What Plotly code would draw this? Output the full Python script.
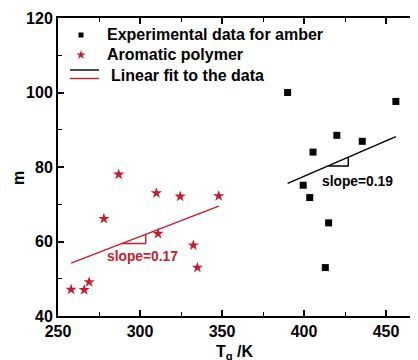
import plotly.graph_objects as go

# Data
amber_tg = [390, 456, 420, 435.5, 405.5, 399.5, 403.5, 415, 413]
amber_m = [100, 97.6, 88.5, 86.9, 84, 75.1, 71.8, 65, 53]
arom_tg = [258, 266, 269, 278, 287, 310, 311, 324.5, 332.5, 335, 348]
arom_m = [47.1, 47, 49.1, 66.1, 78, 73, 62.1, 72.1, 59, 53, 72.2]

# Fits (from picture)
amber_fit_x = [390, 456]
amber_fit_b, amber_fit_k = 75.6, 0.19   # y = b + k*(x - 390)
arom_fit_x = [258, 348]
arom_fit_b, arom_fit_k = 54.2, 0.17     # y = b + k*(x - 258)

RED = "#c41e2e"
FONT = "Liberation Sans, Arial, sans-serif"

OFF = 8  # page body margin
W, H = 418 - OFF, 360 - OFF
L, R, T, B = 58 - OFF, 0, 18 - OFF, 44
PW, PH = W - L - R, H - T - B

def px_x(p):  # viewport pixel -> paper
    return (p - OFF - L) / PW

def px_y(p):
    return (H - B - (p - OFF)) / PH

def amber_line(x):
    return amber_fit_b + amber_fit_k * (x - amber_fit_x[0])

def arom_line(x):
    return arom_fit_b + arom_fit_k * (x - arom_fit_x[0])

fig = go.Figure()

fig.add_trace(go.Scatter(x=arom_fit_x, y=[arom_line(v) for v in arom_fit_x], mode="lines",
                         line=dict(color=RED, width=1.5), showlegend=False))
fig.add_trace(go.Scatter(x=amber_fit_x, y=[amber_line(v) for v in amber_fit_x], mode="lines",
                         line=dict(color="black", width=1.5), showlegend=False))

# slope triangles
tx1, tx2 = 289, 303.5
fig.add_trace(go.Scatter(x=[tx1, tx2, tx2], y=[arom_line(tx1), arom_line(tx1), arom_line(tx2)],
                         mode="lines", line=dict(color=RED, width=1.4), showlegend=False))
bx1, bx2 = 414.5, 427
fig.add_trace(go.Scatter(x=[bx1, bx2, bx2], y=[amber_line(bx1), amber_line(bx1), amber_line(bx2)],
                         mode="lines", line=dict(color="black", width=1.4), showlegend=False))

fig.add_trace(go.Scatter(x=amber_tg, y=amber_m, mode="markers",
                         marker=dict(symbol="square", size=7, color="black"), showlegend=False))
fig.add_trace(go.Scatter(x=arom_tg, y=arom_m, mode="markers",
                         marker=dict(symbol="star", size=8.5, color=RED, line=dict(width=0)), showlegend=False))

# Legend glyphs on overlay axis (paper-like)
fig.add_trace(go.Scatter(x=[px_x(81)], y=[px_y(35)], xaxis="x2", yaxis="y2", mode="markers",
                         marker=dict(symbol="square", size=5, color="black"), showlegend=False))
fig.add_trace(go.Scatter(x=[px_x(81)], y=[px_y(55)], xaxis="x2", yaxis="y2", mode="markers",
                         marker=dict(symbol="star", size=7, color=RED, line=dict(width=0)), showlegend=False))
fig.add_trace(go.Scatter(x=[px_x(70), px_x(99)], y=[px_y(70)] * 2, xaxis="x2", yaxis="y2", mode="lines",
                         line=dict(color="black", width=1.4), showlegend=False))
fig.add_trace(go.Scatter(x=[px_x(70), px_x(99)], y=[px_y(78.5)] * 2, xaxis="x2", yaxis="y2", mode="lines",
                         line=dict(color=RED, width=1.4), showlegend=False))

legend_texts = [("Experimental data for amber", 105, 35),
                ("Aromatic polymer", 105, 55),
                ("Linear fit to the data", 109, 75)]
annotations = []
for t, x, y in legend_texts:
    annotations.append(dict(text=t, x=px_x(x), y=px_y(y), xref="paper", yref="paper", showarrow=False,
                            xanchor="left", yanchor="middle",
                            font=dict(family=FONT, size=16, color="black", weight="bold")))

annotations.append(dict(text="slope=0.17", x=301.5, y=55.9, showarrow=False,
                        font=dict(family=FONT, size=13.8, color=RED, weight="bold")))
annotations.append(dict(text="slope=0.19", x=432.5, y=76.2, showarrow=False,
                        font=dict(family=FONT, size=13.8, color="black", weight="bold")))
annotations.append(dict(text="m", x=px_x(18), y=px_y(178), xref="paper", yref="paper", showarrow=False,
                        textangle=-90, xanchor="center", yanchor="middle",
                        font=dict(family=FONT, size=16, color="black", weight="bold")))
annotations.append(dict(text="T<sub>g</sub> /K", x=px_x(235), y=px_y(341), xref="paper", yref="paper",
                        showarrow=False, xanchor="center", yanchor="top",
                        font=dict(family=FONT, size=16, color="black", weight="bold")))

axis_common = dict(showline=True, linecolor="black", linewidth=2, mirror="ticks",
                   ticks="inside", ticklen=6, tickwidth=1.6, tickcolor="black",
                   showgrid=False, zeroline=False, automargin=False,
                   tickfont=dict(family=FONT, size=16, color="black", weight="bold"))

fig.update_layout(
    width=W, height=H,
    margin=dict(l=L, r=R, t=T, b=B),
    paper_bgcolor="white", plot_bgcolor="white",
    showlegend=False,
    xaxis=dict(range=[250, 469.5], tickvals=[250, 300, 350, 400, 450],
               minor=dict(ticks="inside", ticklen=4, tickwidth=1.4, tickcolor="black", dtick=25, tick0=250),
               **axis_common),
    yaxis=dict(range=[40, 120], tickvals=[40, 60, 80, 100, 120],
               minor=dict(ticks="inside", ticklen=4, tickwidth=1.4, tickcolor="black", dtick=10, tick0=40),
               **axis_common),
    xaxis2=dict(range=[0, 1], overlaying="x", visible=False, fixedrange=True),
    yaxis2=dict(range=[0, 1], overlaying="y", visible=False, fixedrange=True),
    annotations=annotations,
)

fig.write_html("out.html")
